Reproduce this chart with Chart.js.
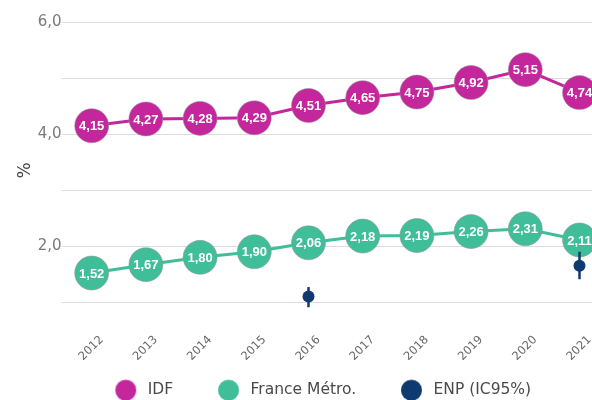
<!DOCTYPE html>
<html lang="fr">
<head>
<meta charset="utf-8">
<title>Évolution IDF / France Métro. / ENP</title>
<script src="https://cdn.jsdelivr.net/npm/chart.js@4.4.1/dist/chart.umd.min.js"></script>
<style>
  html, body { margin: 0; padding: 0; background: #fff; overflow: hidden; }
  #chart { display: block; }
</style>
</head>
<body>
<canvas id="chart" width="640" height="408"></canvas>
<script>
// Years on the x axis
const years = ['2012', '2013', '2014', '2015', '2016', '2017', '2018', '2019', '2020', '2021'];

// Rates in %
const idfValues = [4.15, 4.27, 4.28, 4.29, 4.51, 4.65, 4.75, 4.92, 5.15, 4.74];
const franceValues = [1.52, 1.67, 1.80, 1.90, 2.06, 2.18, 2.19, 2.26, 2.31, 2.11];

// ENP survey estimate with its 95% confidence interval
const enpValues = [null, null, null, null, 1.10, null, null, null, null, 1.65];
const enpLow    = [null, null, null, null, 0.91, null, null, null, null, 1.41];
const enpHigh   = [null, null, null, null, 1.27, null, null, null, null, 1.90];

// Y axis grid values and their labels
const yTickValues = [1, 2, 3, 4, 5, 6];
const yTickLabels = ['', '2,0', '', '4,0', '', '6,0'];

const seriesNames = ['IDF', 'France Métro.', 'ENP (IC95%)'];

const COLOR_IDF = '#c4269c';
const COLOR_FR = '#40bd99';
const COLOR_ENP = '#0f3a6f';

const fmt = v => v.toFixed(2).replace('.', ',');

// Legend marker: a round dot drawn on a small canvas, placed right of the box centre
function legendDot(color) {
  const r = 10.5, shift = 18;
  const c = document.createElement('canvas');
  c.width = Math.ceil(2 * (shift + r + 1));
  c.height = 2 * Math.ceil(r + 1);
  const g = c.getContext('2d');
  g.fillStyle = color;
  g.beginPath();
  g.arc(c.width / 2 + shift, c.height / 2, r, 0, Math.PI * 2);
  g.fill();
  return c;
}
const legendDots = [legendDot(COLOR_IDF), legendDot(COLOR_FR), legendDot(COLOR_ENP)];

// Vertical confidence-interval whiskers for the ENP points
const errorBars = {
  id: 'errorBars',
  afterDatasetsDraw(chart) {
    const meta = chart.getDatasetMeta(2);
    const y = chart.scales.y;
    const ctx = chart.ctx;
    ctx.save();
    ctx.strokeStyle = COLOR_ENP;
    ctx.lineWidth = 2.5;
    meta.data.forEach((pt, i) => {
      if (enpValues[i] == null) return;
      ctx.beginPath();
      ctx.moveTo(pt.x, y.getPixelForValue(enpHigh[i]));
      ctx.lineTo(pt.x, y.getPixelForValue(enpLow[i]));
      ctx.stroke();
    });
    ctx.restore();
  }
};

// Value written inside each large marker
const valueLabels = {
  id: 'valueLabels',
  afterDatasetsDraw(chart) {
    const ctx = chart.ctx;
    ctx.save();
    ctx.font = 'bold 13px "Liberation Sans", Arial, sans-serif';
    ctx.fillStyle = '#ffffff';
    ctx.textAlign = 'center';
    ctx.textBaseline = 'middle';
    [0, 1].forEach(di => {
      const meta = chart.getDatasetMeta(di);
      const data = chart.data.datasets[di].data;
      meta.data.forEach((pt, i) => {
        ctx.fillText(fmt(data[i]), pt.x, pt.y + 1);
      });
    });
    ctx.restore();
  }
};

new Chart(document.getElementById('chart'), {
  type: 'line',
  data: {
    labels: years,
    datasets: [
      {
        label: seriesNames[0],
        data: idfValues,
        borderColor: COLOR_IDF,
        backgroundColor: COLOR_IDF,
        borderWidth: 3,
        pointRadius: 17,
        pointHoverRadius: 17,
        pointBackgroundColor: COLOR_IDF,
        pointBorderColor: 'rgba(150,150,150,0.55)',
        pointBorderWidth: 1,
        tension: 0
      },
      {
        label: seriesNames[1],
        data: franceValues,
        borderColor: COLOR_FR,
        backgroundColor: COLOR_FR,
        borderWidth: 3,
        pointRadius: 17,
        pointHoverRadius: 17,
        pointBackgroundColor: COLOR_FR,
        pointBorderColor: 'rgba(150,150,150,0.55)',
        pointBorderWidth: 1,
        tension: 0
      },
      {
        label: seriesNames[2],
        data: enpValues,
        showLine: false,
        borderColor: COLOR_ENP,
        backgroundColor: COLOR_ENP,
        pointRadius: 6,
        pointHoverRadius: 6,
        pointBackgroundColor: COLOR_ENP,
        pointBorderWidth: 0
      }
    ]
  },
  options: {
    responsive: false,
    animation: false,
    layout: { padding: { top: 22, right: 33.4, left: 0, bottom: 0 } },
    scales: {
      x: {
        type: 'category',
        offset: true,
        border: { display: false },
        grid: { display: false, drawTicks: false },
        ticks: {
          minRotation: 45,
          maxRotation: 45,
          labelOffset: 10,
          padding: 14,
          color: '#666',
          font: { family: '"DejaVu Sans", sans-serif', size: 11.5 }
        },
        afterFit(scale) { scale.height = 58.5; }
      },
      y: {
        min: 0.7,
        max: 6,
        border: { display: false },
        grid: { color: '#dcdcdc', lineWidth: 1, drawTicks: true, tickLength: 3 },
        ticks: {
          padding: 0,
          color: '#7a7a7a',
          font: { family: '"DejaVu Sans", sans-serif', size: 15 },
          callback: (v, i) => yTickLabels[i]
        },
        afterBuildTicks(scale) {
          scale.ticks = yTickValues.map(v => ({ value: v }));
        },
        afterFit(scale) { scale.width = 64.6; },
        title: {
          display: true,
          text: '%',
          color: '#444',
          font: { family: '"DejaVu Sans", sans-serif', size: 17 },
          padding: { top: 15, bottom: 0 }
        }
      }
    },
    plugins: {
      tooltip: { enabled: false },
      legend: {
        position: 'bottom',
        labels: {
          usePointStyle: true,
          pointStyleWidth: 64.6,
          padding: 5,
          color: '#4a4a4a',
          font: { family: '"DejaVu Sans", sans-serif', size: 15.5 },
          generateLabels: chart => chart.data.datasets.map((ds, i) => ({
            text: ds.label,
            pointStyle: legendDots[i],
            fillStyle: ds.backgroundColor,
            strokeStyle: 'transparent',
            lineWidth: 0,
            hidden: false,
            datasetIndex: i,
            fontColor: '#4a4a4a'
          }))
        }
      }
    }
  },
  plugins: [errorBars, valueLabels]
});
</script>
</body>
</html>
